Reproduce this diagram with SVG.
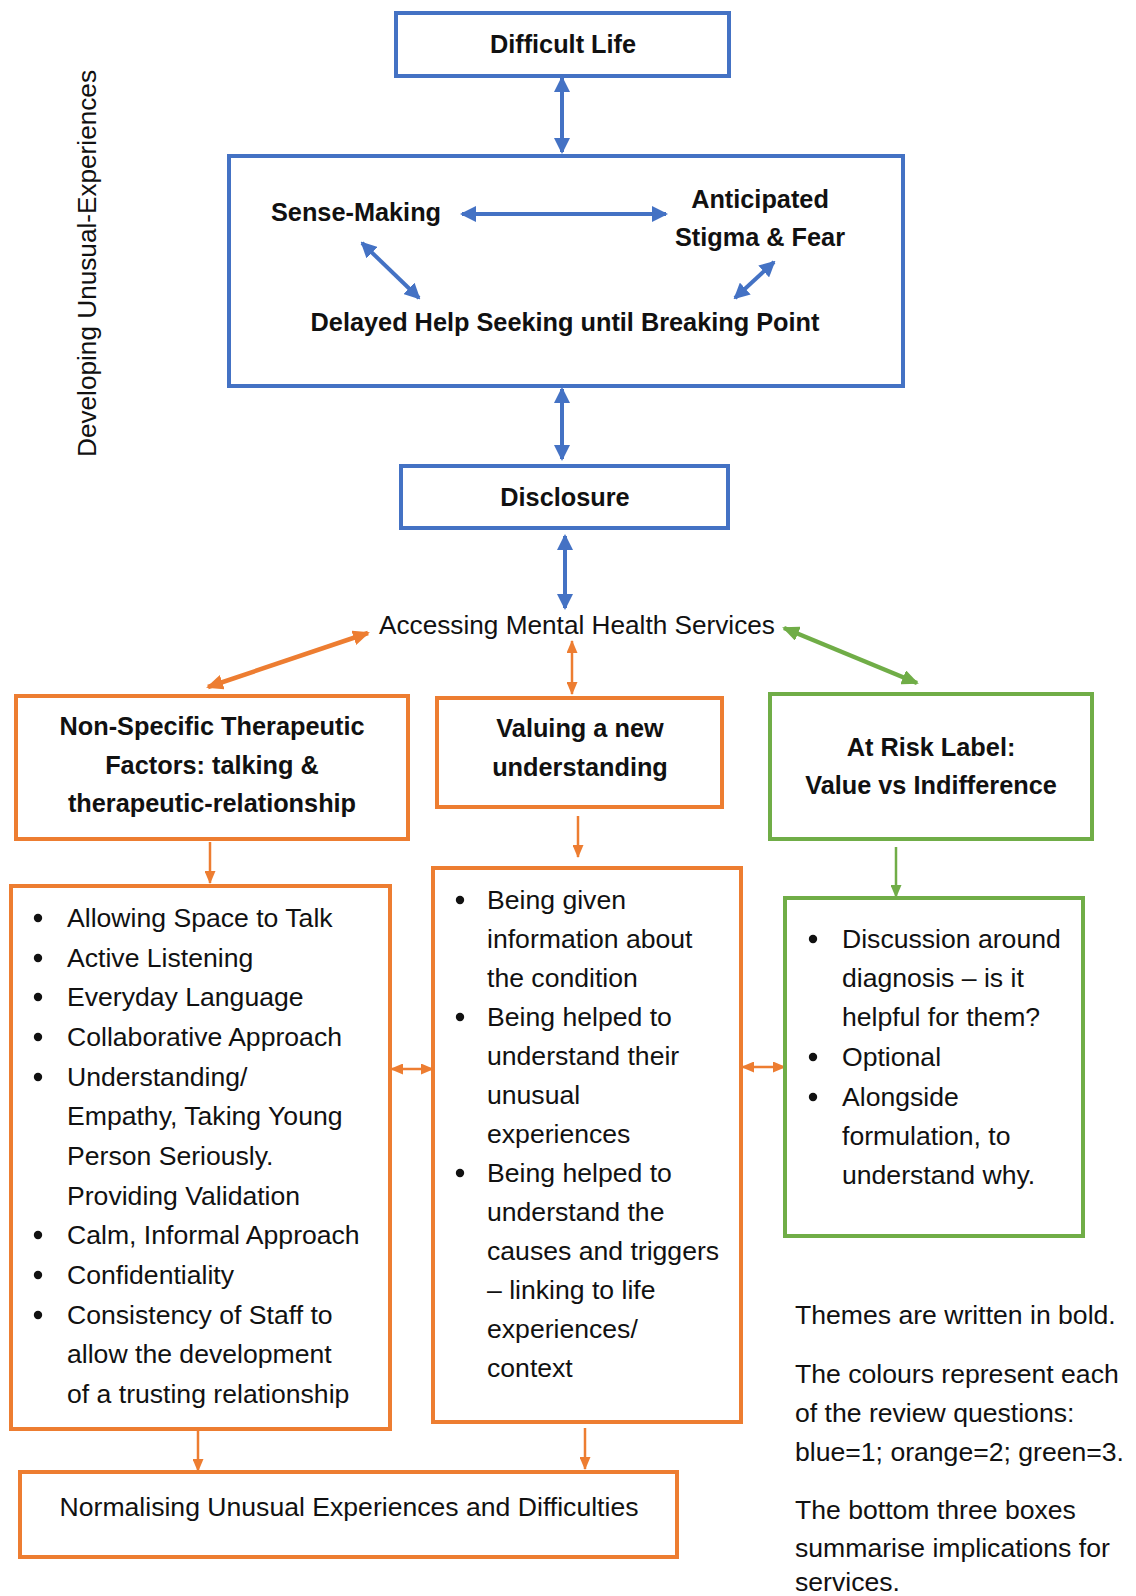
<svg xmlns="http://www.w3.org/2000/svg" width="1136" height="1596" viewBox="0 0 1136 1596">
<style>
.bb{fill:#fff;stroke:#4472C4;stroke-width:4}
.ob{fill:#fff;stroke:#ED7D31;stroke-width:4}
.gb{fill:#fff;stroke:#70AD47;stroke-width:4}
text{font-family:"Liberation Sans",Arial,sans-serif;fill:#111}
.t{font-size:25.3px;font-weight:bold;text-anchor:middle}
.r{font-size:26.6px}
.rc{font-size:26.6px;text-anchor:middle}
.bl{stroke:#4472C4;stroke-width:4;fill:none}
.ol{stroke:#ED7D31;stroke-width:2.5;fill:none}
.olt{stroke:#ED7D31;stroke-width:4.5;fill:none}
.gl{stroke:#70AD47;stroke-width:2.5;fill:none}
.glt{stroke:#70AD47;stroke-width:4.5;fill:none}
.dot{fill:#111}
</style>
<defs>
<marker id="hb" markerUnits="userSpaceOnUse" markerWidth="16" markerHeight="16" refX="14" refY="8" orient="auto-start-reverse"><path d="M0,0 L16,8 L0,16 Z" fill="#4472C4"/></marker>
<marker id="hot" markerUnits="userSpaceOnUse" markerWidth="17" markerHeight="15" refX="15" refY="7.5" orient="auto-start-reverse"><path d="M0,0 L17,7.5 L0,15 Z" fill="#ED7D31"/></marker>
<marker id="hgt" markerUnits="userSpaceOnUse" markerWidth="17" markerHeight="15" refX="15" refY="7.5" orient="auto-start-reverse"><path d="M0,0 L17,7.5 L0,15 Z" fill="#70AD47"/></marker>
<marker id="ho" markerUnits="userSpaceOnUse" markerWidth="13" markerHeight="11" refX="12" refY="5.5" orient="auto-start-reverse"><path d="M0,0 L13,5.5 L0,11 Z" fill="#ED7D31"/></marker>
<marker id="hg" markerUnits="userSpaceOnUse" markerWidth="13" markerHeight="11" refX="12" refY="5.5" orient="auto-start-reverse"><path d="M0,0 L13,5.5 L0,11 Z" fill="#70AD47"/></marker>
</defs>

<text transform="translate(96,263.5) rotate(-90)" class="rc" textLength="387" lengthAdjust="spacingAndGlyphs" style="font-size:25px">Developing Unusual-Experiences</text>

<g id="connectors">
<line class="bl" x1="562" y1="78" x2="562" y2="152" marker-start="url(#hb)" marker-end="url(#hb)"/>
<line class="bl" x1="462" y1="214" x2="666" y2="214" marker-start="url(#hb)" marker-end="url(#hb)"/>
<line class="bl" x1="362" y1="243" x2="419" y2="298" marker-start="url(#hb)" marker-end="url(#hb)"/>
<line class="bl" x1="774" y1="262" x2="735" y2="298" marker-start="url(#hb)" marker-end="url(#hb)"/>
<line class="bl" x1="562" y1="389" x2="562" y2="459" marker-start="url(#hb)" marker-end="url(#hb)"/>
<line class="bl" x1="565" y1="536" x2="565" y2="608" marker-start="url(#hb)" marker-end="url(#hb)"/>
<line class="olt" x1="368" y1="633" x2="208" y2="687" marker-start="url(#hot)" marker-end="url(#hot)"/>
<line class="ol" x1="572" y1="641" x2="572" y2="694" marker-start="url(#ho)" marker-end="url(#ho)"/>
<line class="glt" x1="784" y1="628" x2="917" y2="683" marker-start="url(#hgt)" marker-end="url(#hgt)"/>
<line class="ol" x1="210" y1="842" x2="210" y2="883" marker-end="url(#ho)"/>
<line class="ol" x1="578" y1="816" x2="578" y2="857" marker-end="url(#ho)"/>
<line class="gl" x1="896" y1="847" x2="896" y2="897" marker-end="url(#hg)"/>
<line class="ol" x1="391" y1="1069" x2="433" y2="1069" marker-start="url(#ho)" marker-end="url(#ho)"/>
<line class="ol" x1="742" y1="1067" x2="785" y2="1067" marker-start="url(#ho)" marker-end="url(#ho)"/>
<line class="ol" x1="198" y1="1431" x2="198" y2="1471" marker-end="url(#ho)"/>
<line class="ol" x1="585" y1="1428" x2="585" y2="1469" marker-end="url(#ho)"/>
</g>

<g id="difficult-life">
<rect class="bb" x="396" y="13" width="333" height="63"/>
<text class="t" x="563" y="53">Difficult Life</text>
</g>

<g id="developing-box">
<rect class="bb" x="229" y="156" width="674" height="230" style="fill:none"/>
</g>
<g id="sense-making"><text class="t" x="356" y="221">Sense-Making</text></g>
<g id="anticipated-stigma"><text class="t" x="760" y="208">Anticipated</text><text class="t" x="760" y="246">Stigma &amp; Fear</text></g>
<g id="delayed-help"><text class="t" x="565" y="331">Delayed Help Seeking until Breaking Point</text></g>

<g id="disclosure">
<rect class="bb" x="401" y="466" width="327" height="62"/>
<text class="t" x="565" y="506">Disclosure</text>
</g>

<g id="accessing"><text class="rc" x="577" y="634" style="font-size:26.2px">Accessing Mental Health Services</text></g>

<g id="non-specific">
<rect class="ob" x="16" y="696" width="392" height="143"/>
<text class="t" x="212" y="735">Non-Specific Therapeutic</text>
<text class="t" x="212" y="774">Factors: talking &amp;</text>
<text class="t" x="212" y="812">therapeutic-relationship</text>
</g>

<g id="valuing">
<rect class="ob" x="437" y="698" width="285" height="109"/>
<text class="t" x="580" y="737">Valuing a new</text>
<text class="t" x="580" y="776">understanding</text>
</g>

<g id="at-risk">
<rect class="gb" x="770" y="694" width="322" height="145"/>
<text class="t" x="931" y="756">At Risk Label:</text>
<text class="t" x="931" y="794">Value vs Indifference</text>
</g>

<g id="list-left">
<rect class="ob" x="11" y="886" width="379" height="543"/>
<circle class="dot" cx="38" cy="918" r="4.2"/>
<circle class="dot" cx="38" cy="958" r="4.2"/>
<circle class="dot" cx="38" cy="997" r="4.2"/>
<circle class="dot" cx="38" cy="1037" r="4.2"/>
<circle class="dot" cx="38" cy="1077" r="4.2"/>
<circle class="dot" cx="38" cy="1235" r="4.2"/>
<circle class="dot" cx="38" cy="1275" r="4.2"/>
<circle class="dot" cx="38" cy="1315" r="4.2"/>
<text class="r" x="67" y="927">Allowing Space to Talk</text>
<text class="r" x="67" y="967">Active Listening</text>
<text class="r" x="67" y="1006">Everyday Language</text>
<text class="r" x="67" y="1046">Collaborative Approach</text>
<text class="r" x="67" y="1086">Understanding/</text>
<text class="r" x="67" y="1125">Empathy, Taking Young</text>
<text class="r" x="67" y="1165">Person Seriously.</text>
<text class="r" x="67" y="1205">Providing Validation</text>
<text class="r" x="67" y="1244">Calm, Informal Approach</text>
<text class="r" x="67" y="1284">Confidentiality</text>
<text class="r" x="67" y="1324">Consistency of Staff to</text>
<text class="r" x="67" y="1363">allow the development</text>
<text class="r" x="67" y="1403">of a trusting relationship</text>
</g>

<g id="list-middle">
<rect class="ob" x="433" y="868" width="308" height="554"/>
<circle class="dot" cx="460" cy="900" r="4.2"/>
<circle class="dot" cx="460" cy="1017" r="4.2"/>
<circle class="dot" cx="460" cy="1173" r="4.2"/>
<text class="r" x="487" y="909">Being given</text>
<text class="r" x="487" y="948">information about</text>
<text class="r" x="487" y="987">the condition</text>
<text class="r" x="487" y="1026">Being helped to</text>
<text class="r" x="487" y="1065">understand their</text>
<text class="r" x="487" y="1104">unusual</text>
<text class="r" x="487" y="1143">experiences</text>
<text class="r" x="487" y="1182">Being helped to</text>
<text class="r" x="487" y="1221">understand the</text>
<text class="r" x="487" y="1260">causes and triggers</text>
<text class="r" x="487" y="1299">– linking to life</text>
<text class="r" x="487" y="1338">experiences/</text>
<text class="r" x="487" y="1377">context</text>
</g>

<g id="list-right">
<rect class="gb" x="785" y="898" width="298" height="338"/>
<circle class="dot" cx="813" cy="939" r="4.2"/>
<circle class="dot" cx="813" cy="1057" r="4.2"/>
<circle class="dot" cx="813" cy="1097" r="4.2"/>
<text class="r" x="842" y="948">Discussion around</text>
<text class="r" x="842" y="987">diagnosis – is it</text>
<text class="r" x="842" y="1026">helpful for them?</text>
<text class="r" x="842" y="1066">Optional</text>
<text class="r" x="842" y="1106">Alongside</text>
<text class="r" x="842" y="1145">formulation, to</text>
<text class="r" x="842" y="1184">understand why.</text>
</g>

<g id="normalising">
<rect class="ob" x="20" y="1472" width="657" height="85"/>
<text class="rc" x="349" y="1516">Normalising Unusual Experiences and Difficulties</text>
</g>

<g id="notes">
<text class="r" x="795" y="1324">Themes are written in bold.</text>
<text class="r" x="795" y="1383">The colours represent each</text>
<text class="r" x="795" y="1422">of the review questions:</text>
<text class="r" x="795" y="1461">blue=1; orange=2; green=3.</text>
<text class="r" x="795" y="1519">The bottom three boxes</text>
<text class="r" x="795" y="1557">summarise implications for</text>
<text class="r" x="795" y="1591">services.</text>
</g>
</svg>
